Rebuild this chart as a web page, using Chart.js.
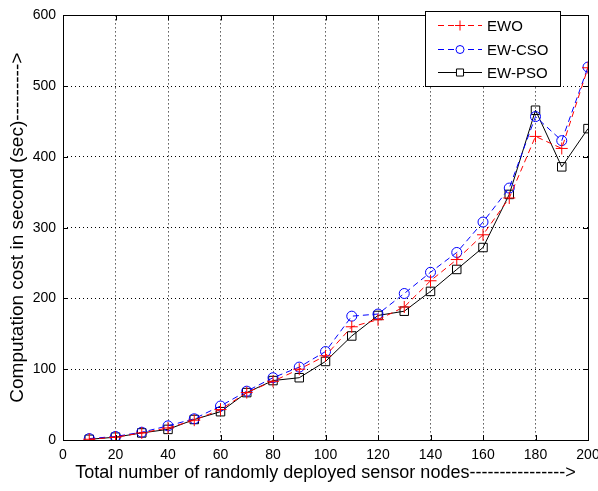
<!DOCTYPE html>
<html>
<head>
<meta charset="utf-8">
<script src="https://cdn.jsdelivr.net/npm/chart.js@4/dist/chart.umd.min.js"></script>
<style>
  html, body { margin: 0; padding: 0; background: #fff; }
  #wrap { width: 598px; height: 491px; }
</style>
</head>
<body>
<div id="wrap"><canvas id="canvas" width="598" height="491"></canvas></div>
<script>
var nodes = [10, 20, 30, 40, 50, 60, 70, 80, 90, 100, 110, 120, 130, 140, 150, 160, 170, 180, 190, 200];
var ewo   = [1, 4, 10, 17, 28, 43, 67, 83, 100, 119, 160, 170, 188, 225, 255, 290, 342, 429, 412, 526];
var ewCso = [2, 5, 11, 20, 30, 48, 69, 88, 103, 125, 175, 178, 207, 237, 265, 308, 356, 457, 423, 527];
var ewPso = [1, 4, 10, 15, 29, 40, 67, 84, 88, 111, 147, 176, 182, 210, 241, 272, 347, 466, 386, 440];
var xTicks = [0, 20, 40, 60, 80, 100, 120, 140, 160, 180, 200];
var yTicks = [0, 100, 200, 300, 400, 500, 600];

var FONT = '"Liberation Sans", Arial, sans-serif';

function pts(ys) {
    var out = [];
    for (var i = 0; i < nodes.length; i++) out.push({ x: nodes[i], y: ys[i] });
    return out;
}

// box round the plot, inward ticks, legend inside the plot
var matlabLook = {
    id: 'matlabLook',
    afterDraw: function (chart) {
        var ctx = chart.ctx;
        var a = chart.chartArea;
        var xs = chart.scales.x, ys = chart.scales.y;
        ctx.save();
        ctx.strokeStyle = '#000';
        ctx.lineWidth = 1;
        ctx.strokeRect(Math.round(a.left) + 0.5, Math.round(a.top) + 0.5,
            Math.round(a.right - a.left), Math.round(a.bottom - a.top));
        ctx.beginPath();
        for (var i = 0; i < xTicks.length; i++) {
            var px = Math.round(xs.getPixelForValue(xTicks[i])) + 0.5;
            ctx.moveTo(px, a.bottom); ctx.lineTo(px, a.bottom - 5);
            ctx.moveTo(px, a.top); ctx.lineTo(px, a.top + 5);
        }
        for (var j = 0; j < yTicks.length; j++) {
            var py = Math.round(ys.getPixelForValue(yTicks[j])) + 0.5;
            ctx.moveTo(a.left, py); ctx.lineTo(a.left + 5, py);
            ctx.moveTo(a.right, py); ctx.lineTo(a.right - 5, py);
        }
        ctx.stroke();

        // legend
        var lx = 425, ly = 11, lw = 135, lh = 75;
        ctx.fillStyle = '#fff';
        ctx.fillRect(lx, ly, lw, lh);
        ctx.strokeRect(lx + 0.5, ly + 0.5, lw, lh);
        var rows = [25, 49, 72];
        chart.data.datasets.forEach(function (ds, k) {
            var ry = rows[k] + 0.5;
            ctx.strokeStyle = ds.borderColor;
            ctx.lineWidth = 1;
            ctx.setLineDash(ds.borderDash || []);
            ctx.beginPath();
            ctx.moveTo(438, ry); ctx.lineTo(482, ry);
            ctx.stroke();
            ctx.setLineDash([]);
            ctx.fillStyle = '#fff';
            Chart.helpers.drawPoint(ctx, {
                pointStyle: ds.pointStyle, radius: ds.pointRadius - 1, rotation: 0, borderWidth: 1
            }, 460, ry);
            ctx.fillStyle = '#000';
            ctx.font = '15px ' + FONT;
            ctx.textBaseline = 'middle';
            ctx.textAlign = 'left';
            ctx.fillText(ds.label, 487, ry + 1);
        });
        ctx.restore();
    }
};

new Chart('canvas', {
    type: 'line',
    data: {
        datasets: [
            {
                label: 'EWO',
                data: pts(ewo),
                borderColor: '#ff0000',
                backgroundColor: 'rgba(0,0,0,0)',
                borderWidth: 1,
                borderDash: [6, 4],
                pointStyle: 'cross',
                pointRadius: 6,
                pointBorderWidth: 1,
                pointBorderColor: '#ff0000',
            },
            {
                label: 'EW-CSO',
                data: pts(ewCso),
                borderColor: '#0000ff',
                backgroundColor: 'rgba(0,0,0,0)',
                borderWidth: 1,
                borderDash: [6, 4],
                pointStyle: 'circle',
                pointRadius: 5,
                pointBorderWidth: 1,
                pointBorderColor: '#0000ff',
            },
            {
                label: 'EW-PSO',
                data: pts(ewPso),
                borderColor: '#000000',
                backgroundColor: 'rgba(0,0,0,0)',
                borderWidth: 1,
                pointStyle: 'rect',
                pointRadius: 6,
                pointBorderWidth: 1,
                pointBorderColor: '#000000',
            },
        ],
    },
    options: {
        responsive: false,
        animation: false,
        layout: { padding: { left: 0, right: 0, top: 15, bottom: 0 } },
        plugins: {
            legend: { display: false },
            tooltip: { enabled: false },
        },
        scales: {
            x: {
                type: 'linear',
                min: 0,
                max: 200,
                afterBuildTicks: function (s) { s.ticks = xTicks.map(function (v) { return { value: v }; }); },
                afterFit: function (s) { s.height = 51; s.paddingRight = 10; },
                border: { display: false, dash: [1, 3] },
                grid: { color: '#000', lineWidth: 1, drawTicks: false },
                ticks: { color: '#000', font: { family: FONT, size: 14 }, padding: 7, maxRotation: 0 },
                title: {
                    display: true,
                    text: 'Total number of randomly deployed sensor nodes---------------->',
                    color: '#000',
                    font: { family: FONT, size: 18 },
                    padding: { top: 0, bottom: 7 },
                },
            },
            y: {
                min: 0,
                max: 600,
                afterBuildTicks: function (s) { s.ticks = yTicks.map(function (v) { return { value: v }; }); },
                afterFit: function (s) { s.width = 63; },
                border: { display: false, dash: [1, 3] },
                grid: { color: '#000', lineWidth: 1, drawTicks: false },
                ticks: { color: '#000', font: { family: FONT, size: 14 }, padding: 7 },
                title: {
                    display: true,
                    text: 'Computation cost in second (sec)--------->',
                    color: '#000',
                    font: { family: FONT, size: 19 },
                    padding: { top: 6, bottom: 0 },
                },
            },
        },
    },
    plugins: [matlabLook],
});
</script>
</body>
</html>
